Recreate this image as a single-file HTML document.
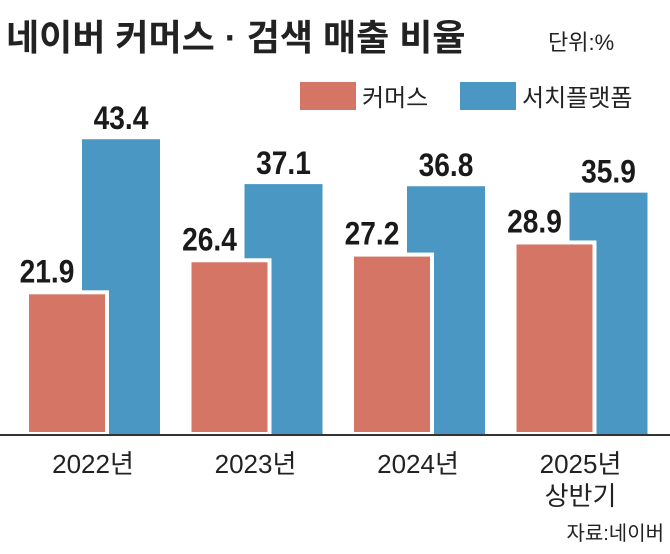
<!DOCTYPE html>
<html><head><meta charset="utf-8"><style>
body{margin:0;background:#fff;width:670px;height:549px;overflow:hidden;font-family:"Liberation Sans","Noto Sans CJK KR",sans-serif;}
</style></head><body>
<svg width="670" height="549" xmlns="http://www.w3.org/2000/svg" font-family="Liberation Sans, Noto Sans CJK KR, sans-serif">
<text x="6" y="50" font-size="36" font-weight="bold" fill="#222">네이버 커머스 · 검색 매출 비율</text>
<text x="548" y="50" font-size="22" fill="#222">단위:%</text>
<rect x="300" y="82" width="56" height="28" fill="#d57565"/>
<text x="362" y="106" font-size="24" fill="#222">커머스</text>
<rect x="460" y="82" width="56" height="28" fill="#4b97c3"/>
<text x="522" y="106" font-size="24" fill="#222">서치플랫폼</text>
<g id="bars"></g>
<line x1="0" y1="435" x2="670" y2="435" stroke="#333" stroke-width="2"/>
<g id="labels"></g>
<text x="664" y="540" font-size="20" fill="#222" text-anchor="end">자료:네이버</text>
</svg>
<script>
const categories=["2022년","2023년","2024년","2025년"];
const subLabels=["","","","상반기"];
const commerce=[21.9,26.4,27.2,28.9];
const search=[43.4,37.1,36.8,35.9];
const NS="http://www.w3.org/2000/svg";
const y=v=>434-(v-2)*7.12;
const x0=i=>27+i*162.5;
const bars=document.getElementById('bars'),labels=document.getElementById('labels');
function mk(tag,attrs,parent){const e=document.createElementNS(NS,tag);for(const k in attrs)e.setAttribute(k,attrs[k]);parent.appendChild(e);return e;}
categories.forEach((c,i)=>{
  const bx=x0(i)+55;
  const b=mk('rect',{x:bx,y:y(search[i]),width:78,height:434-y(search[i]),fill:'#4b97c3'},bars);
  
  
  const r=mk('rect',{x:x0(i),y:y(commerce[i]),width:80,height:434-y(commerce[i]),fill:'#d57565',stroke:'#fff','stroke-width':4},bars);
  
  
  const t1=mk('text',{x:x0(i)+20,y:y(commerce[i])-10,'font-size':32,'font-weight':'bold',fill:'#1a1a1a','text-anchor':'middle',transform:`translate(${(x0(i)+20)*0.12},0) scale(0.88,1)`},labels);
  t1.textContent=commerce[i].toFixed(1);
  
  
  const sx=bx+39;
  const t2=mk('text',{x:sx,y:y(search[i])-10,'font-size':32,'font-weight':'bold',fill:'#1a1a1a','text-anchor':'middle',transform:`translate(${sx*0.12},0) scale(0.88,1)`},labels);
  t2.textContent=search[i].toFixed(1);
  
  
  const cx=x0(i)+66;
  const t3=mk('text',{x:cx,y:473,'font-size':26,fill:'#222','text-anchor':'middle'},labels);
  t3.textContent=c;
  
  
  if(subLabels[i]){
    const t4=mk('text',{x:cx,y:505,'font-size':26,fill:'#222','text-anchor':'middle'},labels);
    t4.textContent=subLabels[i];
    
    
  }
});
</script>
</body></html>
